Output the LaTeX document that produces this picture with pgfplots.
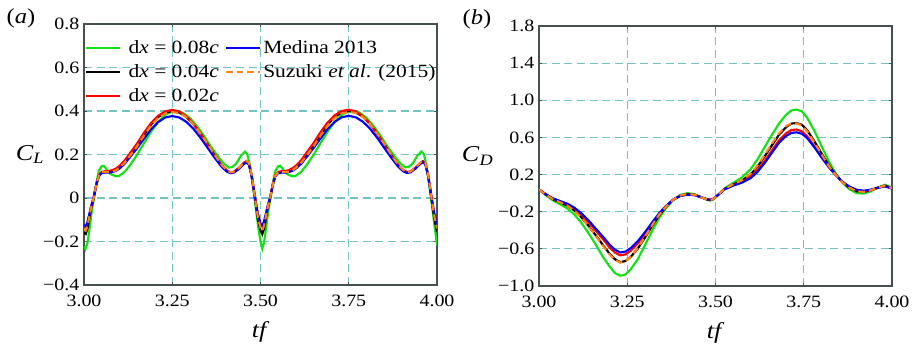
\documentclass[border=0pt]{standalone}
\usepackage{pgfplots}
\pgfplotsset{compat=1.18}
\usepackage{pgfplotstable}
\usepackage{fontspec}
\setmainfont{Liberation Serif}[FakeStretch=1.15]
\definecolor{cgreen}{RGB}{20,225,20}
\definecolor{cblue}{RGB}{0,0,255}
\definecolor{cred}{RGB}{255,0,0}
\definecolor{corange}{RGB}{255,130,20}
\definecolor{cgrid}{RGB}{115,195,195}
\definecolor{cframe}{RGB}{70,80,80}

% ---------- C_L data ----------
\pgfplotstableread{
t v
3.000 -0.128
3.005 -0.132
3.010 -0.112
3.015 -0.078
3.020 -0.040
3.027 0.000
3.035 0.065
3.042 0.105
3.050 0.120
3.060 0.123
3.070 0.124
3.080 0.128
3.090 0.135
3.100 0.147
3.115 0.172
3.130 0.205
3.150 0.250
3.170 0.300
3.190 0.345
3.210 0.378
3.230 0.398
3.250 0.405
3.270 0.397
3.290 0.375
3.310 0.340
3.330 0.295
3.350 0.245
3.370 0.195
3.390 0.150
3.405 0.126
3.415 0.118
3.425 0.121
3.440 0.140
3.452 0.160
3.460 0.168
3.467 0.158
3.475 0.105
3.484 0.010
3.492 -0.070
3.500 -0.118
3.505 -0.126
3.510 -0.108
3.515 -0.075
3.520 -0.038
3.527 0.000
3.535 0.065
3.542 0.105
3.550 0.120
3.560 0.123
3.570 0.124
3.580 0.128
3.590 0.136
3.600 0.148
3.615 0.173
3.630 0.207
3.650 0.252
3.670 0.302
3.690 0.347
3.710 0.380
3.730 0.400
3.750 0.406
3.770 0.398
3.790 0.376
3.810 0.341
3.830 0.296
3.850 0.246
3.870 0.196
3.890 0.151
3.905 0.127
3.915 0.119
3.925 0.122
3.940 0.141
3.952 0.160
3.960 0.168
3.967 0.158
3.975 0.105
3.984 0.010
3.992 -0.070
4.000 -0.122
}\clred

\pgfplotstableread{
t v
3.000 -0.158
3.005 -0.165
3.010 -0.140
3.015 -0.095
3.020 -0.050
3.027 -0.005
3.035 0.060
3.042 0.102
3.050 0.118
3.060 0.120
3.070 0.119
3.080 0.121
3.090 0.128
3.100 0.140
3.115 0.163
3.130 0.195
3.150 0.240
3.170 0.290
3.190 0.337
3.210 0.372
3.230 0.393
3.250 0.399
3.270 0.393
3.290 0.373
3.310 0.340
3.330 0.296
3.350 0.247
3.370 0.197
3.390 0.150
3.405 0.125
3.415 0.117
3.425 0.120
3.440 0.139
3.452 0.160
3.460 0.168
3.467 0.157
3.475 0.100
3.484 0.000
3.492 -0.090
3.500 -0.150
3.505 -0.166
3.510 -0.142
3.515 -0.097
3.520 -0.050
3.527 -0.005
3.535 0.060
3.542 0.102
3.550 0.118
3.560 0.120
3.570 0.119
3.580 0.121
3.590 0.128
3.600 0.140
3.615 0.163
3.630 0.195
3.650 0.240
3.670 0.290
3.690 0.337
3.710 0.372
3.730 0.393
3.750 0.400
3.770 0.394
3.790 0.374
3.810 0.341
3.830 0.297
3.850 0.248
3.870 0.198
3.890 0.151
3.905 0.126
3.915 0.118
3.925 0.121
3.940 0.140
3.952 0.161
3.960 0.169
3.967 0.158
3.975 0.100
3.984 0.000
3.992 -0.090
4.000 -0.155
}\clblack

\pgfplotstableread{
t v
3.000 -0.142
3.005 -0.150
3.010 -0.128
3.015 -0.088
3.020 -0.046
3.027 -0.002
3.035 0.062
3.042 0.103
3.050 0.118
3.060 0.120
3.070 0.119
3.080 0.121
3.090 0.127
3.100 0.139
3.115 0.162
3.130 0.193
3.150 0.237
3.170 0.287
3.190 0.333
3.210 0.368
3.230 0.389
3.250 0.395
3.270 0.390
3.290 0.372
3.310 0.340
3.330 0.297
3.350 0.249
3.370 0.199
3.390 0.152
3.405 0.127
3.415 0.118
3.425 0.121
3.440 0.140
3.452 0.161
3.460 0.171
3.467 0.162
3.475 0.106
3.484 0.004
3.492 -0.082
3.500 -0.138
3.505 -0.150
3.510 -0.128
3.515 -0.088
3.520 -0.046
3.527 -0.002
3.535 0.062
3.542 0.103
3.550 0.118
3.560 0.120
3.570 0.119
3.580 0.121
3.590 0.127
3.600 0.139
3.615 0.162
3.630 0.193
3.650 0.237
3.670 0.287
3.690 0.333
3.710 0.368
3.730 0.389
3.750 0.396
3.770 0.391
3.790 0.373
3.810 0.341
3.830 0.298
3.850 0.250
3.870 0.200
3.890 0.153
3.905 0.128
3.915 0.119
3.925 0.122
3.940 0.141
3.952 0.162
3.960 0.172
3.967 0.163
3.975 0.106
3.984 0.004
3.992 -0.082
4.000 -0.140
}\clorange

\pgfplotstableread{
t v
3.000 -0.125
3.005 -0.130
3.010 -0.110
3.015 -0.076
3.020 -0.040
3.027 0.000
3.035 0.062
3.042 0.100
3.050 0.114
3.060 0.117
3.070 0.117
3.080 0.119
3.090 0.125
3.100 0.135
3.115 0.157
3.130 0.187
3.150 0.228
3.170 0.273
3.190 0.316
3.210 0.349
3.230 0.370
3.250 0.377
3.270 0.370
3.290 0.350
3.310 0.318
3.330 0.277
3.350 0.231
3.370 0.185
3.390 0.143
3.405 0.121
3.415 0.114
3.425 0.117
3.440 0.135
3.452 0.155
3.460 0.163
3.467 0.154
3.475 0.102
3.484 0.008
3.492 -0.070
3.500 -0.120
3.505 -0.130
3.510 -0.110
3.515 -0.076
3.520 -0.040
3.527 0.000
3.535 0.062
3.542 0.100
3.550 0.114
3.560 0.117
3.570 0.117
3.580 0.119
3.590 0.125
3.600 0.135
3.615 0.157
3.630 0.187
3.650 0.229
3.670 0.274
3.690 0.317
3.710 0.350
3.730 0.371
3.750 0.378
3.770 0.371
3.790 0.351
3.810 0.319
3.830 0.278
3.850 0.232
3.870 0.186
3.890 0.144
3.905 0.122
3.915 0.115
3.925 0.118
3.940 0.136
3.952 0.156
3.960 0.164
3.967 0.155
3.975 0.102
3.984 0.008
3.992 -0.070
4.000 -0.122
}\clblue

\pgfplotstableread{
t v
3.000 -0.222
3.004 -0.235
3.010 -0.205
3.015 -0.150
3.020 -0.085
3.027 -0.010
3.035 0.070
3.042 0.125
3.050 0.146
3.056 0.148
3.065 0.130
3.075 0.110
3.090 0.100
3.100 0.102
3.115 0.120
3.130 0.150
3.150 0.198
3.170 0.252
3.190 0.305
3.210 0.350
3.230 0.382
3.250 0.398
3.265 0.400
3.280 0.392
3.300 0.368
3.320 0.330
3.340 0.285
3.360 0.235
3.380 0.190
3.395 0.160
3.410 0.140
3.420 0.142
3.432 0.160
3.445 0.195
3.456 0.213
3.463 0.200
3.470 0.150
3.478 0.060
3.486 -0.040
3.494 -0.140
3.500 -0.200
3.505 -0.233
3.510 -0.205
3.515 -0.150
3.520 -0.085
3.527 -0.010
3.535 0.070
3.542 0.125
3.550 0.146
3.556 0.148
3.565 0.130
3.575 0.110
3.590 0.100
3.600 0.102
3.615 0.120
3.630 0.150
3.650 0.198
3.670 0.252
3.690 0.305
3.710 0.350
3.730 0.382
3.750 0.398
3.765 0.401
3.780 0.393
3.800 0.369
3.820 0.331
3.840 0.286
3.860 0.236
3.880 0.191
3.895 0.161
3.910 0.141
3.920 0.143
3.932 0.161
3.945 0.196
3.956 0.214
3.963 0.201
3.970 0.151
3.978 0.061
3.986 -0.040
3.994 -0.140
4.000 -0.218
}\clgreen

% ---------- C_D data ----------
\pgfplotstableread{
t v
3.000 0.040
3.020 -0.015
3.040 -0.060
3.060 -0.090
3.080 -0.120
3.100 -0.165
3.120 -0.230
3.140 -0.310
3.160 -0.400
3.180 -0.490
3.200 -0.585
3.215 -0.640
3.230 -0.670
3.245 -0.660
3.260 -0.620
3.280 -0.540
3.300 -0.440
3.320 -0.330
3.340 -0.225
3.360 -0.140
3.380 -0.070
3.400 -0.030
3.420 -0.015
3.440 -0.020
3.460 -0.045
3.475 -0.065
3.485 -0.072
3.495 -0.060
3.510 -0.010
3.525 0.040
3.550 0.085
3.575 0.120
3.600 0.175
3.620 0.250
3.640 0.350
3.660 0.460
3.680 0.570
3.700 0.645
3.715 0.680
3.730 0.685
3.745 0.665
3.760 0.610
3.780 0.505
3.800 0.390
3.820 0.285
3.840 0.195
3.860 0.120
3.880 0.065
3.900 0.032
3.920 0.022
3.940 0.035
3.960 0.058
3.980 0.075
4.000 0.050
}\cdred

\pgfplotstableread{
t v
3.000 0.040
3.020 -0.025
3.040 -0.080
3.060 -0.120
3.080 -0.165
3.100 -0.230
3.120 -0.320
3.140 -0.430
3.160 -0.550
3.180 -0.680
3.200 -0.790
3.215 -0.860
3.230 -0.890
3.245 -0.875
3.260 -0.820
3.280 -0.710
3.300 -0.560
3.320 -0.410
3.340 -0.270
3.360 -0.160
3.380 -0.075
3.400 -0.020
3.420 0.000
3.440 -0.010
3.460 -0.045
3.475 -0.072
3.485 -0.080
3.495 -0.065
3.510 -0.010
3.525 0.050
3.550 0.110
3.575 0.170
3.600 0.260
3.620 0.370
3.640 0.500
3.660 0.630
3.680 0.750
3.700 0.845
3.715 0.890
3.730 0.900
3.745 0.880
3.760 0.810
3.780 0.670
3.800 0.510
3.820 0.350
3.840 0.215
3.860 0.110
3.880 0.040
3.900 0.000
3.920 -0.005
3.940 0.020
3.960 0.060
3.980 0.090
4.000 0.060
}\cdgreen

\pgfplotstableread{
t v
3.000 0.040
3.020 -0.018
3.040 -0.067
3.060 -0.100
3.080 -0.135
3.100 -0.186
3.120 -0.260
3.140 -0.350
3.160 -0.450
3.180 -0.553
3.200 -0.653
3.215 -0.712
3.230 -0.743
3.245 -0.731
3.260 -0.686
3.280 -0.596
3.300 -0.480
3.320 -0.356
3.340 -0.240
3.360 -0.147
3.380 -0.072
3.400 -0.027
3.420 -0.010
3.440 -0.017
3.460 -0.045
3.475 -0.067
3.485 -0.075
3.495 -0.062
3.510 -0.010
3.525 0.043
3.550 0.093
3.575 0.136
3.600 0.203
3.620 0.290
3.640 0.400
3.660 0.516
3.680 0.629
3.700 0.711
3.715 0.749
3.730 0.755
3.745 0.736
3.760 0.676
3.780 0.559
3.800 0.430
3.820 0.306
3.840 0.202
3.860 0.117
3.880 0.057
3.900 0.021
3.920 0.013
3.940 0.030
3.960 0.059
3.980 0.080
4.000 0.053
}\cdblack

\pgfplotstableread{
t v
3.000 0.040
3.020 -0.018
3.040 -0.066
3.060 -0.100
3.080 -0.136
3.100 -0.188
3.120 -0.264
3.140 -0.355
3.160 -0.457
3.180 -0.560
3.200 -0.660
3.215 -0.718
3.230 -0.748
3.245 -0.733
3.260 -0.684
3.280 -0.590
3.300 -0.472
3.320 -0.348
3.340 -0.234
3.360 -0.143
3.380 -0.070
3.400 -0.026
3.420 -0.010
3.440 -0.017
3.460 -0.045
3.475 -0.067
3.485 -0.075
3.495 -0.062
3.510 -0.010
3.525 0.044
3.550 0.095
3.575 0.140
3.600 0.210
3.620 0.302
3.640 0.415
3.660 0.535
3.680 0.645
3.700 0.722
3.715 0.752
3.730 0.750
3.745 0.728
3.760 0.665
3.780 0.548
3.800 0.420
3.820 0.298
3.840 0.197
3.860 0.115
3.880 0.056
3.900 0.021
3.920 0.013
3.940 0.030
3.960 0.059
3.980 0.080
4.000 0.053
}\cdorange

\pgfplotstableread{
t v
3.000 0.040
3.020 -0.013
3.040 -0.057
3.060 -0.086
3.080 -0.114
3.100 -0.156
3.120 -0.217
3.140 -0.293
3.160 -0.379
3.180 -0.463
3.200 -0.556
3.215 -0.609
3.230 -0.639
3.245 -0.629
3.260 -0.591
3.280 -0.516
3.300 -0.422
3.320 -0.318
3.340 -0.218
3.360 -0.137
3.380 -0.069
3.400 -0.031
3.420 -0.017
3.440 -0.021
3.460 -0.045
3.475 -0.064
3.485 -0.071
3.495 -0.059
3.510 -0.010
3.525 0.039
3.550 0.081
3.575 0.113
3.600 0.163
3.620 0.233
3.640 0.328
3.660 0.436
3.680 0.543
3.700 0.616
3.715 0.649
3.730 0.655
3.745 0.639
3.760 0.591
3.780 0.494
3.800 0.386
3.820 0.286
3.840 0.198
3.860 0.121
3.880 0.069
3.900 0.036
3.920 0.026
3.940 0.037
3.960 0.058
3.980 0.073
4.000 0.049
}\cdblue

\pgfplotsset{
  myaxis/.style={
    scale only axis,
    anchor=south west,
    width=264.75pt,
    xmin=3, xmax=4,
    xtick={3,3.25,3.5,3.75,4},
    xticklabels={3.00,3.25,3.50,3.75,4.00},
    grid=major,
    major grid style={cgrid, line width=0.9pt, dash pattern=on 6pt off 3.5pt},
    tick align=inside,
    major tick length=2pt,
    tick style={cframe, line width=0.6pt},
    axis line style={cframe, line width=0.8pt},
    ticklabel style={font=\fontsize{13}{15}\selectfont},
    xticklabel style={yshift=-4pt},
    every axis x label/.style={at={(rel axis cs:0.5,0)}, anchor=center, yshift=-35pt, font=\fontsize{17}{19}\selectfont},
    clip=true,
    every axis plot/.append style={line width=1.6pt},
  },
}

\begin{document}
\begin{tikzpicture}
\useasboundingbox (0pt,0pt) rectangle (684pt,261pt);

\begin{axis}[myaxis,
  at={(63pt,47.25pt)}, height=195.75pt,
  ymin=-0.4, ymax=0.8,
  ytick={-0.4,-0.2,0,0.2,0.4,0.6,0.8},
  yticklabels={−0.4,−0.2,0,0.2,0.4,0.6,0.8},
  xlabel={\textit{tf}},
  ylabel={\textit{C}\textsubscript{\textit{L}}},
  every axis y label/.style={at={(rel axis cs:0,0.5)}, anchor=center, xshift=-40.5pt, font=\fontsize{17}{19}\selectfont},
  legend columns=2,
  legend cell align=left,
  legend style={at={(rel axis cs:0,1)}, anchor=north west, draw=none, fill=none,
    font=\fontsize{14}{16}\selectfont, row sep=3pt,
    /tikz/column 1/.style={column sep=3.5pt},
    /tikz/column 2/.style={column sep=2.75pt},
    /tikz/column 3/.style={column sep=-0.25pt},
    xshift=-2pt, yshift=-8pt},
  legend image code/.code={\draw[#1, line width=1.3pt] (0pt,0pt) -- (25.5pt,0pt);},
]
\addlegendimage{cgreen}
\addlegendentry{d\textit{x} = 0.08\textit{c}}
\addlegendimage{cblue}
\addlegendentry{Medina 2013}
\addlegendimage{black}
\addlegendentry{d\textit{x} = 0.04\textit{c}}
\addlegendimage{corange, dash pattern=on 5pt off 3pt}
\addlegendentry{Suzuki \textit{et al}. (2015)}
\addlegendimage{cred}
\addlegendentry{d\textit{x} = 0.02\textit{c}}

\addplot[cgreen, forget plot] table {\clgreen};
\addplot[black, forget plot] table {\clblack};
\addplot[cred, forget plot] table {\clred};
\addplot[cblue, forget plot] table {\clblue};
\addplot[corange, dash pattern=on 5pt off 3pt, forget plot] table {\clorange};
\end{axis}

\begin{axis}[myaxis,
  at={(404.25pt,46.5pt)}, height=195pt,
  ymin=-1.0, ymax=1.8,
  ytick={-1.0,-0.6,-0.2,0.2,0.6,1.0,1.4,1.8},
  yticklabels={−1.0,−0.6,−0.2,0.2,0.6,1.0,1.4,1.8},
  xlabel={\textit{tf}},
  ylabel={\textit{C}\textsubscript{\textit{D}}},
  every axis y label/.style={at={(rel axis cs:0,0.5)}, anchor=center, xshift=-46pt, font=\fontsize{17}{19}\selectfont},
]
\addplot[cgreen] table {\cdgreen};
\addplot[black] table {\cdblack};
\addplot[cred] table {\cdred};
\addplot[cblue] table {\cdblue};
\addplot[corange, dash pattern=on 5pt off 3pt] table {\cdorange};
\end{axis}

\node[font=\fontsize{16}{18}\selectfont] at (15.75pt,247.5pt) {(\textit{a})};
\node[font=\fontsize{16}{18}\selectfont] at (357.75pt,246.75pt) {(\textit{b})};
\end{tikzpicture}
\end{document}
